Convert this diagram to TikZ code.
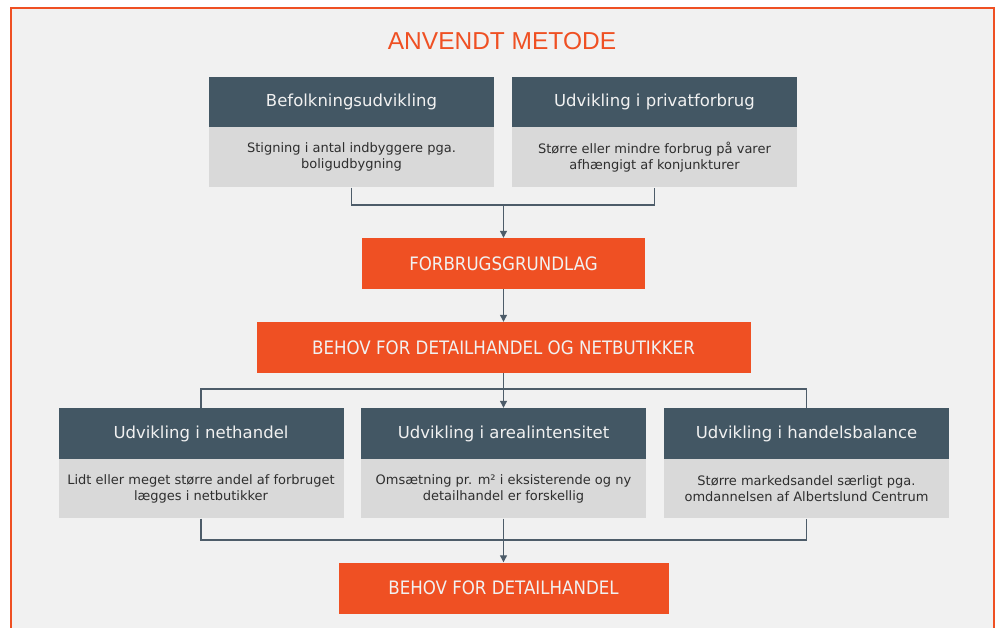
\documentclass[tikz,border=0pt]{standalone}
\usepackage{fontspec}
\setmainfont{DejaVu Sans}
\newfontfamily\titlefont{Liberation Sans}
\newfontfamily\boxfont[FakeStretch=0.9]{DejaVu Sans}
\usetikzlibrary{arrows.meta}
\usetikzlibrary{positioning}
\definecolor{rust}{HTML}{EF5023}
\definecolor{slate}{HTML}{435764}
\definecolor{pale}{HTML}{D9D9D9}
\definecolor{paper}{HTML}{F1F1F1}
\definecolor{ink}{HTML}{2E2E2E}
\definecolor{wire}{HTML}{4D5C69}
\tikzset{
	head/.style={rectangle, fill=slate, text=paper, minimum width=285, minimum height=50, inner sep=0pt, font=\fontsize{16.5}{20}\selectfont},
	lowhead/.style={head, minimum height=51},
	body/.style={rectangle, fill=pale, text=ink, minimum width=285, minimum height=60, inner sep=0pt, align=center, font=\fontsize{13}{16}\selectfont},
	lowbody/.style={body, minimum height=59},
	result/.style={rectangle, fill=rust, text=paper, minimum height=51, inner sep=0pt, font=\boxfont\fontsize{18.5}{22}\selectfont},
	wiring/.style={draw=wire, line width=1.1pt},
}
\begin{document}
\begin{tikzpicture}[x=1pt, y=-1pt, >={Triangle[length=7pt,width=7pt]}, every edge/.style={wiring}]
		\useasboundingbox (0,0) rectangle (998,628);
		\fill[white] (0,0) rectangle (998,628);
		\draw[rust, line width=1.5pt, fill=paper] (11,8) rectangle (994,660);
		\node[text=rust, font=\titlefont\fontsize{24.5}{28}\selectfont] (title) at (502,41) {ANVENDT METODE};
		\node[head] (h1) at (351.5,102) {Befolkningsudvikling};
		\node[body, below=0pt of h1] (b1) {Stigning i antal indbyggere pga.\\boligudbygning};
		\node[head] (h2) at (654.5,102) {Udvikling i privatforbrug};
		\node[body, below=0pt of h2] (b2) {Større eller mindre forbrug på varer\\afhængigt af konjunkturer};
		\node[result, minimum width=283] (fg) at (503.5,263.5) {FORBRUGSGRUNDLAG};
		\node[result, minimum width=494] (bn) at (503.5,347.5) {BEHOV FOR DETAILHANDEL OG NETBUTIKKER};
		\node[lowhead] (h3) at (201,433.5) {Udvikling i nethandel};
		\node[lowbody, below=0pt of h3] (b3) {Lidt eller meget større andel af forbruget\\lægges i netbutikker};
		\node[lowhead] (h4) at (503.5,433.5) {Udvikling i arealintensitet};
		\node[lowbody, below=0pt of h4] (b4) {Omsætning pr. m² i eksisterende og ny\\detailhandel er forskellig};
		\node[lowhead] (h5) at (806.5,433.5) {Udvikling i handelsbalance};
		\node[lowbody, below=0pt of h5] (b5) {Større markedsandel særligt pga.\\omdannelsen af Albertslund Centrum};
		\node[result, minimum width=330] (bd) at (503.5,588) {BEHOV FOR DETAILHANDEL};
		\coordinate (j1) at (503.5,205);
		\coordinate (j2) at (503.5,389);
		\coordinate (j3) at (503.5,540);
		\draw[wiring] (b1.south) |- (j1) -| (b2.south);
		\path [->] (j1) edge (fg.north);
		\path [->] (fg) edge (bn);
		\draw[wiring] (h3.north) |- (j2) -| (h5.north);
		\draw[wiring] (bn.south) -- (j2);
		\path [->] (j2) edge (h4.north);
		\draw[wiring] (b3.south) |- (j3) -| (b5.south);
		\path [->] (b4) edge (bd);
	\end{tikzpicture}
\end{document}
